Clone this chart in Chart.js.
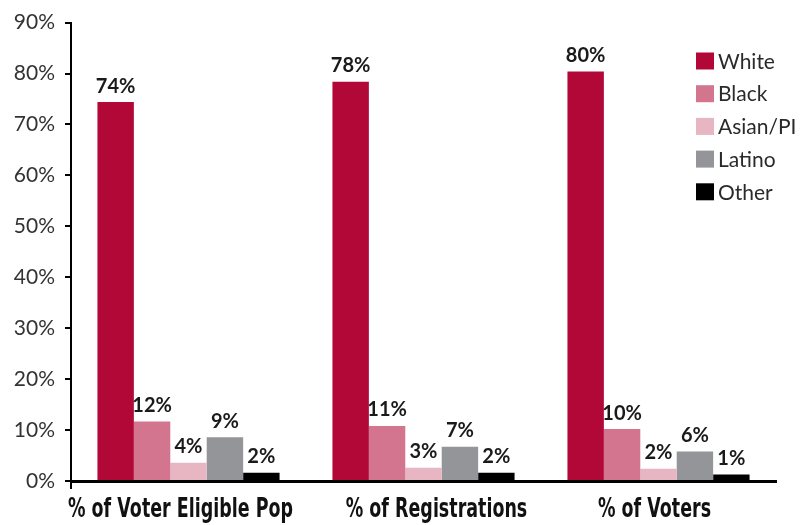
<!DOCTYPE html>
<html>
<head>
<meta charset="utf-8">
<script src="https://cdn.jsdelivr.net/npm/chart.js@4/dist/chart.umd.min.js"></script>
<style>
  html, body { margin: 0; padding: 0; background: #fff; }
  #wrap { width: 804px; height: 525px; position: relative; }
</style>
</head>
<body>
<div id="wrap"><canvas id="c" width="804" height="525"></canvas></div>
<script>
const categories = ["% of Voter Eligible Pop", "% of Registrations", "% of Voters"];
const seriesNames = ["White", "Black", "Asian/PI", "Latino", "Other"];
const white  = [74.4, 78.4, 80.4];
const black  = [11.7, 10.8, 10.2];
const asian  = [3.6, 2.6, 2.4];
const latino = [8.6, 6.7, 5.8];
const other  = [1.6, 1.6, 1.3];
const yTicks = [0, 10, 20, 30, 40, 50, 60, 70, 80, 90];
const colors = ["#B20838", "#D47590", "#E8B5C3", "#939598", "#000000"];

const seriesValues = [white, black, asian, latino, other];

const labelPlugin = {
  id: 'barLabels',
  afterDatasetsDraw(chart) {
    const ctx = chart.ctx;
    ctx.save();
    ctx.font = "bold 20px Lato";
    ctx.fillStyle = "#1a1a1a";
    ctx.textAlign = "center";
    ctx.textBaseline = "bottom";
    chart.data.datasets.forEach((ds, i) => {
      const meta = chart.getDatasetMeta(i);
      meta.data.forEach((el, j) => {
        ctx.fillText(Math.round(ds.data[j]) + "%", el.x, el.y - 6);
      });
    });
    ctx.restore();
  }
};

// Category labels drawn condensed at the x scale's tick positions
const catLabelPlugin = {
  id: 'catLabels',
  afterDraw(chart) {
    const ctx = chart.ctx;
    const xs = chart.scales.x;
    const shift = [-8, 13, -4];
    ctx.save();
    ctx.font = "bold 27px 'DejaVu Sans'";
    ctx.fillStyle = "#111";
    ctx.textBaseline = "alphabetic";
    ctx.textAlign = "center";
    const w0 = ctx.measureText(chart.data.labels[0]).width;
    const sx = 225 / w0;
    chart.data.labels.forEach((lab, i) => {
      const x = xs.getPixelForTick(i);
      ctx.save();
      ctx.translate(x + shift[i], 517);
      ctx.scale(sx, 1);
      ctx.fillText(lab, 0, 0);
      ctx.restore();
    });
    ctx.restore();
  }
};

const legendPlugin = {
  id: 'insideLegend',
  afterDraw(chart) {
    const ctx = chart.ctx;
    ctx.save();
    ctx.font = "21px Lato";
    ctx.textAlign = "left";
    ctx.textBaseline = "middle";
    chart.data.datasets.forEach((ds, i) => {
      const cy = 61 + i * 32.7;
      ctx.fillStyle = ds.backgroundColor;
      ctx.fillRect(696, cy - 8.5, 18, 17);
      ctx.fillStyle = "#2a2a2a";
      ctx.fillText(ds.label, 718, cy + 1);
    });
    ctx.restore();
  }
};

new Chart(document.getElementById('c'), {
  type: 'bar',
  data: {
    labels: categories,
    datasets: seriesNames.map((n, i) => ({
      label: n,
      data: seriesValues[i],
      backgroundColor: colors[i],
      borderWidth: 0,
      categoryPercentage: 0.775,
      barPercentage: 1.0
    }))
  },
  options: {
    responsive: false,
    animation: false,
    devicePixelRatio: 1,
    layout: { padding: { top: 20, right: 28, left: 0, bottom: 0 } },
    plugins: { legend: { display: false }, tooltip: { enabled: false } },
    scales: {
      x: {
        afterFit(s) { s.height = 44; s.paddingLeft = 0; s.paddingRight = 0; },
        border: { color: '#000', width: 3 },
        grid: {
          drawOnChartArea: false,
          drawTicks: true,
          tickLength: 8,
          lineWidth: 2,
          color: (c) => c.index === 0 ? '#000' : 'rgba(0,0,0,0)'
        },
        ticks: { display: false }
      },
      y: {
        min: 0, max: 90,
        afterFit(s) { s.width = 71; },
        afterBuildTicks(s) { s.ticks = yTicks.map(v => ({ value: v })); },
        border: { color: '#000', width: 2 },
        grid: { drawOnChartArea: false, drawTicks: true, tickLength: 6, lineWidth: 2, color: '#000' },
        ticks: {
          color: '#333',
          padding: 10,
          font: { family: "Lato", size: 21 },
          callback: (v) => v + '%'
        }
      }
    }
  },
  plugins: [labelPlugin, catLabelPlugin, legendPlugin]
});
</script>
</body>
</html>
